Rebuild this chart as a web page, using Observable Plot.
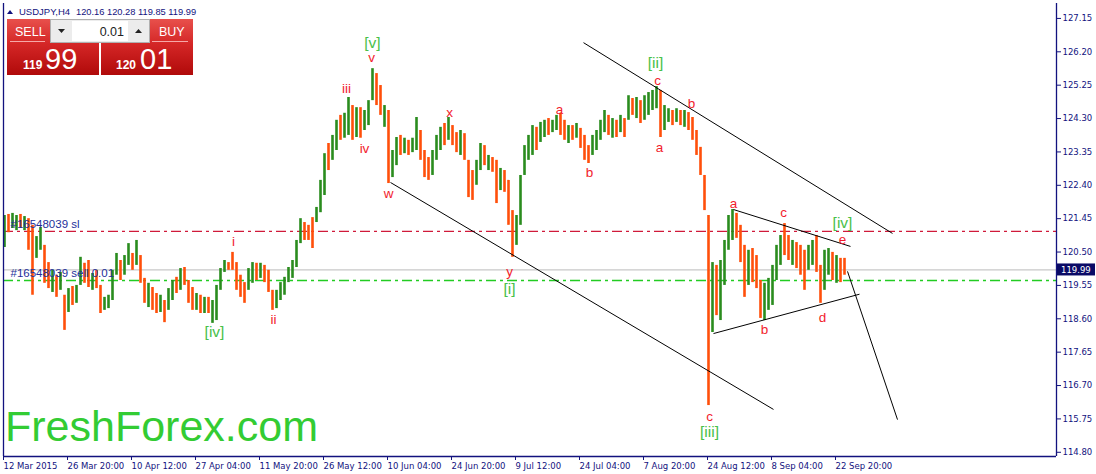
<!DOCTYPE html>
<html><head><meta charset="utf-8">
<script src="https://cdn.jsdelivr.net/npm/d3@7"></script>
<script src="https://cdn.jsdelivr.net/npm/@observablehq/plot@0.6"></script>
<style>
body{margin:0;background:#fff}
#wrap{position:relative;width:1096px;height:474px;overflow:hidden;font-family:"Liberation Sans",Arial,sans-serif}
#wrap svg{position:absolute;left:0;top:0}
</style>
</head><body><div id="wrap"></div>
<script>
// USDJPY H4, one entry per 4 bars
const high = [
121.54,121.57,121.60,121.54,121.57,121.51,121.45,121.26,120.94,121.20,
120.69,120.20,119.98,119.84,119.92,119.27,119.46,119.52,119.55,120.35,
120.18,120.26,119.89,119.98,119.55,119.21,119.27,119.98,120.46,120.26,
120.40,120.74,120.46,120.83,120.40,119.75,119.61,119.49,119.32,119.27,
119.12,119.46,119.69,119.78,120.03,120.06,119.69,119.49,119.32,119.27,
119.21,119.21,119.12,119.55,120.03,120.26,120.20,120.49,120.20,119.84,
119.63,120.03,120.20,120.18,120.18,120.12,119.98,119.41,119.41,119.63,
119.78,120.06,120.26,120.83,121.45,121.34,121.26,121.48,121.77,122.54,
123.30,123.59,123.82,124.25,124.39,124.45,124.90,124.67,124.61,124.61,
124.53,124.81,125.72,125.58,125.24,124.67,124.53,123.39,123.76,123.82,
123.74,123.68,123.74,124.33,123.96,123.39,123.19,123.39,123.82,124.05,
124.16,124.33,124.10,123.90,123.96,123.87,123.11,122.82,123.11,123.59,
123.53,123.25,123.19,123.11,122.88,122.82,122.54,121.68,121.54,122.68,
123.53,123.82,124.10,124.05,124.19,124.25,124.30,124.25,124.39,124.45,
124.25,124.10,124.10,124.16,124.02,123.82,123.53,123.82,123.96,124.25,
124.53,124.39,124.30,124.25,124.39,124.30,124.95,124.87,124.90,124.81,
124.95,125.04,125.10,125.21,125.10,124.67,124.58,124.53,124.58,124.53,
124.53,124.47,124.33,123.96,123.48,122.68,121.54,120.20,120.12,120.26,
120.83,121.54,121.71,121.60,121.26,120.69,120.55,120.60,120.40,119.69,
119.61,119.75,120.12,120.69,120.97,121.31,120.97,120.83,120.77,120.69,
120.55,120.69,120.83,120.97,120.12,120.55,120.60,120.49,120.40,120.32,120.32];
const low = [
120.63,121.05,121.17,121.11,121.17,121.11,120.55,119.27,120.32,120.55,
119.61,119.46,119.35,119.21,119.41,118.27,118.78,118.98,119.04,119.55,
119.61,119.49,119.41,119.46,118.75,118.84,118.89,119.12,119.84,119.69,
119.84,120.12,119.98,120.12,119.61,119.04,118.92,118.84,118.75,118.78,
118.49,118.84,119.12,119.32,119.41,119.55,119.04,118.84,118.84,118.75,
118.75,118.75,118.47,118.55,119.41,119.92,119.98,119.98,119.41,119.21,
119.04,119.41,119.61,119.69,119.75,119.63,119.35,118.84,118.89,119.12,
119.27,119.63,119.75,120.06,120.74,120.83,120.83,120.60,121.34,121.62,
122.11,122.82,123.11,123.39,123.68,123.74,123.82,123.68,123.76,123.74,
123.96,124.10,124.81,124.67,124.39,124.05,122.45,122.62,122.96,123.25,
123.30,123.25,123.33,123.39,123.11,122.62,122.54,122.68,123.11,123.39,
123.53,123.68,123.53,123.33,123.25,123.11,122.05,121.97,122.40,122.82,
122.96,122.82,122.77,121.88,122.25,122.20,121.26,120.35,120.69,121.26,
122.68,123.11,123.25,123.39,123.62,123.76,123.82,123.90,123.96,123.82,
123.68,123.59,123.68,123.74,123.45,123.11,123.02,123.25,123.39,123.68,
123.90,123.82,123.74,123.76,123.90,123.76,124.25,124.39,124.30,124.16,
124.25,124.39,124.53,124.58,123.76,123.96,124.19,124.10,124.19,124.10,
124.05,123.96,123.68,123.25,122.68,121.68,116.13,118.21,118.69,118.55,
119.55,120.55,120.83,120.89,120.20,119.21,119.55,119.63,119.46,118.61,
118.55,118.84,118.98,119.69,120.12,120.40,120.26,120.12,120.03,119.84,
119.41,119.98,120.12,119.92,119.04,119.41,119.84,119.69,119.61,119.63,119.84];
// g = bullish, r = bearish
const dir = "grggrgrrgg"+"rrgrgrgrgg"+"rrgrrggggr"+"ggrgrrgrrg"+"rggrgrrrgr"+"grggggrrrr"+"rggrgrrrgg"+"gggggrrrgg"+"grggrggrgr"+"gggrrgrggr"+"grggrrrggg"+"rgrrgrrrgg"+"rgrrgrrrgg"+"gggrggrggr"+"rgrgrrrggg"+"grgrgrgrgr"+"ggggrggrgr"+"grrrrrrgrg"+"gggrrrgrrr"+"gggggrrgrr"+"rggrrggrgrr";

const yTicks = [127.15,126.20,125.25,124.30,123.35,122.40,121.45,120.50,119.55,118.60,117.65,116.70,115.75,114.80];
const tickIdx = [-0.25,15.75,31.75,47.75,63.75,79.75,95.75,111.75,127.75,143.75,159.75,175.75,191.75,207.75];
const dateLabels = ["12 Mar 2015","26 Mar 20:00","10 Apr 12:00","27 Apr 04:00","11 May 20:00","26 May 12:00","10 Jun 04:00","24 Jun 20:00","9 Jul 12:00","24 Jul 04:00","7 Aug 20:00","24 Aug 12:00","8 Sep 04:00","22 Sep 20:00"];

const slPrice = 121.09, sellPrice = 119.69, bid = 119.99;

const waveText  = ["[v]","v","iii","iv","w","x","a","b","[ii]","c","b","a","y","[i]","i","ii","[iv]","a","c","[iv]","e","b","d","c","[iii]"];
const waveIdx   = [92,91.75,85.5,90,96,111.25,138.75,146.25,162.75,163.25,171.75,163.75,126.25,126.25,57.25,67.25,52.5,182.25,194.75,209.5,209.5,190,204.5,176.25,176.25];
const wavePrice = [126.46,126.04,125.15,123.45,122.17,124.47,124.55,122.76,125.87,125.38,124.73,123.48,119.95,119.46,120.80,118.58,118.21,121.88,121.62,121.34,120.85,118.29,118.64,115.82,115.37];

const tlX1 = [96.5,144.75,182.25,177.25,210.75];
const tlY1 = [122.48,126.46,121.71,118.18,119.95];
const tlX2 = [192.25,222,211.5,213.75,223.25];
const tlY2 = [116.02,121.03,120.66,119.30,115.73];

const bars = high.map((h,i)=>({i, high:h, low:low[i], up: dir[i]==="g"}));
const waves = waveText.map((t,i)=>({t, x:waveIdx[i], y:wavePrice[i], g:t.startsWith("[")}));
const tls = tlX1.map((d,i)=>({x1:tlX1[i], y1:tlY1[i], x2:tlX2[i], y2:tlY2[i]}));

const navy = "#12127e";
const axisFont = "'DejaVu Sans', Verdana, sans-serif";
const xDom = [-0.25, 263], yDom = [114.68, 127.575];

const chart = Plot.plot({
  width: 1096, height: 474,
  marginLeft: 3, marginRight: 40, marginTop: 3, marginBottom: 18,
  x: {domain: xDom, label: null},
  y: {domain: yDom, label: null},
  style: {background: "#fff", color: navy, fontFamily: axisFont, fontSize: "8.5px", overflow: "visible"},
  marks: [
    Plot.ruleY([bid], {stroke: "#c8c8c8", strokeWidth: 1.2}),
    Plot.ruleY([slPrice], {stroke: "#d01a3a", strokeWidth: 1.3, strokeDasharray: "10,4,3,4"}),
    Plot.ruleY([sellPrice], {stroke: "#22cc22", strokeWidth: 1.3, strokeDasharray: "10,4,3,4"}),
    Plot.ruleX(bars.filter(d=>d.up), {x: "i", y1: "low", y2: "high", stroke: "#2a8c1e", strokeWidth: 2.6}),
    Plot.ruleX(bars.filter(d=>!d.up), {x: "i", y1: "low", y2: "high", stroke: "#ff4f0a", strokeWidth: 2.6}),
    Plot.text(["#16548039 sl"], {x: 1.5, y: slPrice + 0.2, text: d=>d, textAnchor: "start", fill: "#232f9a", fontSize: 11.5, fontFamily: "'Liberation Sans', Arial"}),
    Plot.text(["#16548039 sell 0.01"], {x: 1.5, y: sellPrice + 0.2, text: d=>d, textAnchor: "start", fill: "#232f9a", fontSize: 11.5, fontFamily: "'Liberation Sans', Arial"}),
    Plot.link(tls, {x1: "x1", y1: "y1", x2: "x2", y2: "y2", stroke: "#000", strokeWidth: 1}),
    Plot.text(waves.filter(d=>!d.g), {x: "x", y: "y", text: "t", fill: "#f21d2d", fontSize: 13.5, fontFamily: "'Liberation Sans', Arial"}),
    Plot.text(waves.filter(d=>d.g), {x: "x", y: "y", text: "t", fill: "#48c048", fontSize: 15.5, fontFamily: "'Liberation Sans', Arial"}),
    Plot.ruleX([xDom[0], xDom[1]], {stroke: navy, strokeWidth: 1.3}),
    Plot.ruleY([yDom[0]], {stroke: navy, strokeWidth: 1.3}),
    Plot.axisY({anchor: "right", ticks: yTicks, tickFormat: d => d.toFixed(2), tickSize: 4, tickPadding: 2, fontSize: 8.5}),
    Plot.axisX({ticks: tickIdx, tickFormat: d => dateLabels[tickIdx.indexOf(d)], tickSize: 4, tickPadding: 2, textAnchor: "start", fontSize: 8.5})
  ]
});
const wrap = document.getElementById("wrap");
wrap.appendChild(chart);

// bid price box on the right axis
const by = chart.scale("y").apply(bid);
const ns = "http://www.w3.org/2000/svg";
const ov = document.createElementNS(ns, "svg");
ov.setAttribute("width", 1096); ov.setAttribute("height", 474);
ov.style.pointerEvents = "none";
ov.innerHTML = `
<defs><linearGradient id="rg" x1="0" y1="0" x2="0" y2="1">
<stop offset="0" stop-color="#e8504c"/><stop offset="0.45" stop-color="#d42626"/><stop offset="1" stop-color="#b00a0a"/></linearGradient></defs>
<rect x="1057" y="${by-6}" width="38" height="12" fill="#0a0a66"/>
<text x="1061" y="${by+3.5}" fill="#fff" font-size="8.5" font-family="DejaVu Sans, Verdana">${bid.toFixed(2)}</text>
<path d="M7 14 l3 -4 l3 4 z" fill="${navy}"/>
<text x="19" y="15" fill="${navy}" font-size="9.5" font-family="Liberation Sans, Arial">USDJPY,H4</text>
<text x="76" y="15" fill="${navy}" font-size="9.3" font-family="Liberation Sans, Arial">120.16 120.28 119.85 119.99</text>
<rect x="7" y="19" width="92" height="56" fill="url(#rg)"/>
<rect x="101" y="19" width="92" height="56" fill="url(#rg)"/>
<line x1="10" x2="45" y1="41.5" y2="41.5" stroke="#f6a8a8"/>
<line x1="152" x2="188" y1="41.5" y2="41.5" stroke="#f6a8a8"/>
<text x="15" y="36" fill="#fff" font-size="12.5" font-family="Liberation Sans, Arial">SELL</text>
<text x="159" y="36" fill="#fff" font-size="12.5" font-family="Liberation Sans, Arial">BUY</text>
<rect x="50.5" y="19.5" width="99" height="23" fill="#ececec" stroke="#b0b0b0"/>
<rect x="72" y="21" width="56" height="20" fill="#fff"/>
<path d="M58 29 h7 l-3.5 4 z" fill="#222"/>
<path d="M135 33 h7 l-3.5 -4 z" fill="#222"/>
<text x="124" y="36" text-anchor="end" fill="#222" font-size="12.5" font-family="Liberation Sans, Arial">0.01</text>
<text x="23" y="69" fill="#fff" font-size="12" font-weight="bold" font-family="Liberation Sans, Arial">119</text>
<text x="45" y="69" fill="#fff" font-size="29" font-family="Liberation Sans, Arial">99</text>
<text x="116" y="69" fill="#fff" font-size="12" font-weight="bold" font-family="Liberation Sans, Arial">120</text>
<text x="140" y="69" fill="#fff" font-size="29" font-family="Liberation Sans, Arial">01</text>
<text x="5" y="441" fill="#33cc33" font-size="43" font-family="Liberation Sans, Arial">FreshForex.com</text>`;
wrap.appendChild(ov);
</script></body></html>
